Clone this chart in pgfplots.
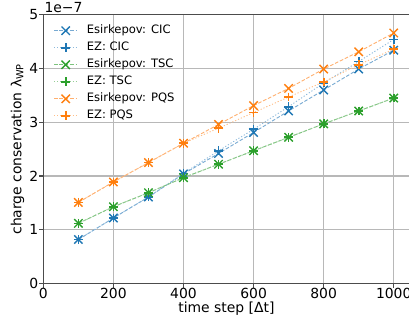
\documentclass[border=0pt]{standalone}
\usepackage{fontspec}
\setmainfont{DejaVu Sans}
\usepackage{pgfplots}
\pgfplotsset{compat=1.18}
\usetikzlibrary{calc}
\definecolor{tabblue}{RGB}{31,119,180}
\definecolor{taborange}{RGB}{255,127,14}
\definecolor{tabgreen}{RGB}{44,160,44}
\definecolor{lblue}{RGB}{120,170,210}
\definecolor{lorange}{RGB}{255,175,110}
\definecolor{lgreen}{RGB}{125,195,125}
\definecolor{llblue}{RGB}{140,185,220}
\definecolor{llorange}{RGB}{255,190,135}
\definecolor{llgreen}{RGB}{150,205,150}
\begin{document}
\begin{tikzpicture}
\begin{axis}[name=ax,
  scale only axis, width=365.75bp, height=268.6bp,
  xmin=0, xmax=1045, ymin=0, ymax=5,
  xtick={0,200,400,600,800,1000}, ytick={0,1,2,3,4,5},
  grid=major, grid style={black!28, line width=1.1bp},
  axis line style={black!70, line width=1.1bp},
  tick style={black!70, line width=1.1bp},
  tick align=outside, major tick length=4bp,
  xtick pos=bottom, ytick pos=left,
  /pgf/number format/assume math mode=true,
  /pgf/number format/1000 sep={},
  tick label style={font=\fontsize{13.9bp}{16bp}\selectfont},
  xticklabel style={anchor=base, inner sep=0pt, yshift=-10.7bp},
  yticklabel style={anchor=east, inner sep=0pt, xshift=-1bp},
  every axis x label/.style={at={(axis description cs:0.5,0)}, anchor=base, yshift=-29bp, font=\fontsize{13.9bp}{16bp}\selectfont},
  every axis y label/.style={at={(axis description cs:0,0.5)}, xshift=-22bp, rotate=90, anchor=base, font=\fontsize{13.9bp}{16bp}\selectfont},
  xlabel={time step [Δt]},
  ylabel={charge conservation λ\textsubscript{WP}},
  legend cell align=left,
  legend image code/.code={\draw[mark repeat=2,mark phase=2] plot coordinates {(0bp,0bp)(11.7bp,0bp)(23.3bp,0bp)};},
  legend style={at={(axis description cs:0,1)}, anchor=north west, xshift=10bp, yshift=-10.3bp,
    draw=none, fill=none, inner sep=0pt, row sep=6bp, column sep=9bp,
    font=\fontsize{11.57bp}{13bp}\selectfont,
    nodes={inner sep=0pt, text height=8.5bp, text depth=2.5bp}},
]
\addplot[draw=lblue, line width=0.9bp, dash pattern=on 3.6bp off 1.8bp, mark=x, mark size=5.9bp, mark options={solid, draw=tabblue, line width=1.4bp}] coordinates {(100,0.82)(200,1.22)(300,1.61)(400,2.04)(500,2.42)(600,2.81)(700,3.21)(800,3.60)(900,3.99)(1000,4.34)};
\addlegendentry{Esirkepov: CIC}
\addplot[draw=llblue, line width=0.9bp, dash pattern=on 1.2bp off 1.9bp, mark=+, mark size=4.4bp, mark options={solid, draw=tabblue, line width=1.7bp}] coordinates {(100,0.82)(200,1.22)(300,1.61)(400,2.05)(500,2.47)(600,2.87)(700,3.29)(800,3.73)(900,4.13)(1000,4.54)};
\addlegendentry{EZ: CIC}
\addplot[draw=lgreen, line width=0.9bp, dash pattern=on 3.6bp off 1.8bp, mark=x, mark size=5.9bp, mark options={solid, draw=tabgreen, line width=1.4bp}] coordinates {(100,1.12)(200,1.43)(300,1.69)(400,1.97)(500,2.22)(600,2.47)(700,2.72)(800,2.97)(900,3.21)(1000,3.45)};
\addlegendentry{Esirkepov: TSC}
\addplot[draw=llgreen, line width=0.9bp, dash pattern=on 1.2bp off 1.9bp, mark=+, mark size=4.4bp, mark options={solid, draw=tabgreen, line width=1.7bp}] coordinates {(100,1.12)(200,1.43)(300,1.69)(400,1.97)(500,2.22)(600,2.47)(700,2.72)(800,2.97)(900,3.21)(1000,3.45)};
\addlegendentry{EZ: TSC}
\addplot[draw=lorange, line width=0.9bp, dash pattern=on 3.6bp off 1.8bp, mark=x, mark size=5.9bp, mark options={solid, draw=taborange, line width=1.4bp}] coordinates {(100,1.51)(200,1.89)(300,2.25)(400,2.61)(500,2.96)(600,3.31)(700,3.63)(800,3.99)(900,4.31)(1000,4.66)};
\addlegendentry{Esirkepov: PQS}
\addplot[draw=llorange, line width=0.9bp, dash pattern=on 1.2bp off 1.9bp, mark=+, mark size=4.4bp, mark options={solid, draw=taborange, line width=1.7bp}] coordinates {(100,1.51)(200,1.89)(300,2.25)(400,2.61)(500,2.89)(600,3.18)(700,3.47)(800,3.75)(900,4.07)(1000,4.36)};
\addlegendentry{EZ: PQS}
\end{axis}
\node[anchor=base west, inner sep=0pt, font=\fontsize{13.9bp}{16bp}\selectfont] at ($(ax.north west)+(1bp,2bp)$) {1e−7};
\pgfresetboundingbox
\useasboundingbox ($(ax.south west)+(-43.3bp,-40.7bp)$) rectangle ($(ax.north east)+(-0.5bp,14.7bp)$);
\end{tikzpicture}
\end{document}
